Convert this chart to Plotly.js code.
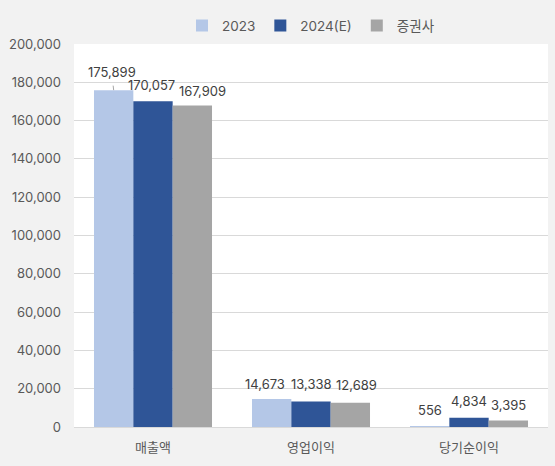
<!DOCTYPE html>
<html>
<head>
<meta charset="utf-8">
<script src="https://cdn.plot.ly/plotly-3.0.1.min.js"></script>
<style>
html, body { margin: 0; padding: 0; background: #f2f2f2; }
#chart { width: 555px; height: 466px; }
</style>
</head>
<body>
<div id="chart"></div>
<script>
var categories = ['매출액', '영업이익', '당기순이익']
var seriesNames = ['2023', '2024(E)', '증권사']
var values2023 = [175899, 14673, 556]
var values2024E = [170057, 13338, 4834]
var valuesBroker = [167909, 12689, 3395]
var yTicks = [0, 20000, 40000, 60000, 80000, 100000, 120000, 140000, 160000, 180000, 200000]

var colors = ['#b4c7e7', '#2f5597', '#a5a5a5']
var allValues = [values2023, values2024E, valuesBroker]

// desplazamientos de las etiquetas (px), como estan movidas en el original
var nudgeX = [[-2, -2, 10], [-7, 0, 6], [0, 0, 0]]
var raise = [[18, 16, 14], [15, 17, 18], [16, 17, 16]]

var W = 555, H = 466
var margin = { l: 74, r: 7, t: 44, b: 39 }
var bargap = 0.253
var barPx = (W - margin.l - margin.r) / categories.length * (1 - bargap) / seriesNames.length

var data = []
var annotations = []
for (let i = 0; i < seriesNames.length; i++) {
    var vals = allValues[i]
    data.push({
        type: 'bar',
        name: seriesNames[i],
        x: categories,
        y: vals,
        marker: { color: colors[i] },
        hoverinfo: 'none'
    })
    for (let j = 0; j < categories.length; j++) {
        var a = {
            x: categories[j],
            y: vals[j],
            text: vals[j].toLocaleString('en-US'),
            font: { size: 13, color: '#404040' },
            xanchor: 'center',
            yanchor: 'middle',
            xshift: (i - 1) * barPx + nudgeX[j][i],
            yshift: raise[j][i],
            showarrow: false
        }
        if (i == 0 && j == 0) {
            // la primera etiqueta tiene linea guia
            a.xshift = (i - 1) * barPx
            a.yshift = 0
            a.showarrow = true
            a.arrowhead = 0
            a.arrowwidth = 1
            a.arrowcolor = '#a6a6a6'
            a.ax = nudgeX[j][i]
            a.ay = -raise[j][i]
            a.startstandoff = 4
        }
        annotations.push(a)
    }
}

var layout = {
    width: W,
    height: H,
    paper_bgcolor: '#f2f2f2',
    plot_bgcolor: '#ffffff',
    font: { family: 'Inter, "Noto Sans CJK KR", sans-serif', size: 13, color: '#595959' },
    margin: margin,
    barmode: 'group',
    bargap: bargap,
    bargroupgap: 0,
    showlegend: true,
    legend: {
        orientation: 'h',
        x: 0.5, xanchor: 'center',
        y: 0.978, yref: 'container', yanchor: 'top',
        font: { size: 13.5, color: '#595959' },
        itemwidth: 10,
        tracegroupgap: 0
    },
    annotations: annotations,
    xaxis: {
        showgrid: false,
        showline: true,
        linecolor: '#d9d9d9',
        ticks: '',
        ticklabelstandoff: 8,
        tickfont: { size: 13, color: '#595959' },
        fixedrange: true
    },
    yaxis: {
        range: [0, 200000],
        tickvals: yTicks,
        ticktext: yTicks.map(v => v.toLocaleString('en-US')),
        showgrid: true,
        gridcolor: '#d9d9d9',
        zeroline: false,
        ticks: '',
        ticklen: 0,
        ticklabelstandoff: 12,
        tickfont: { size: 13, color: '#595959' },
        fixedrange: true
    }
}

Plotly.newPlot('chart', data, layout, { displayModeBar: false, staticPlot: true })
</script>
</body>
</html>
